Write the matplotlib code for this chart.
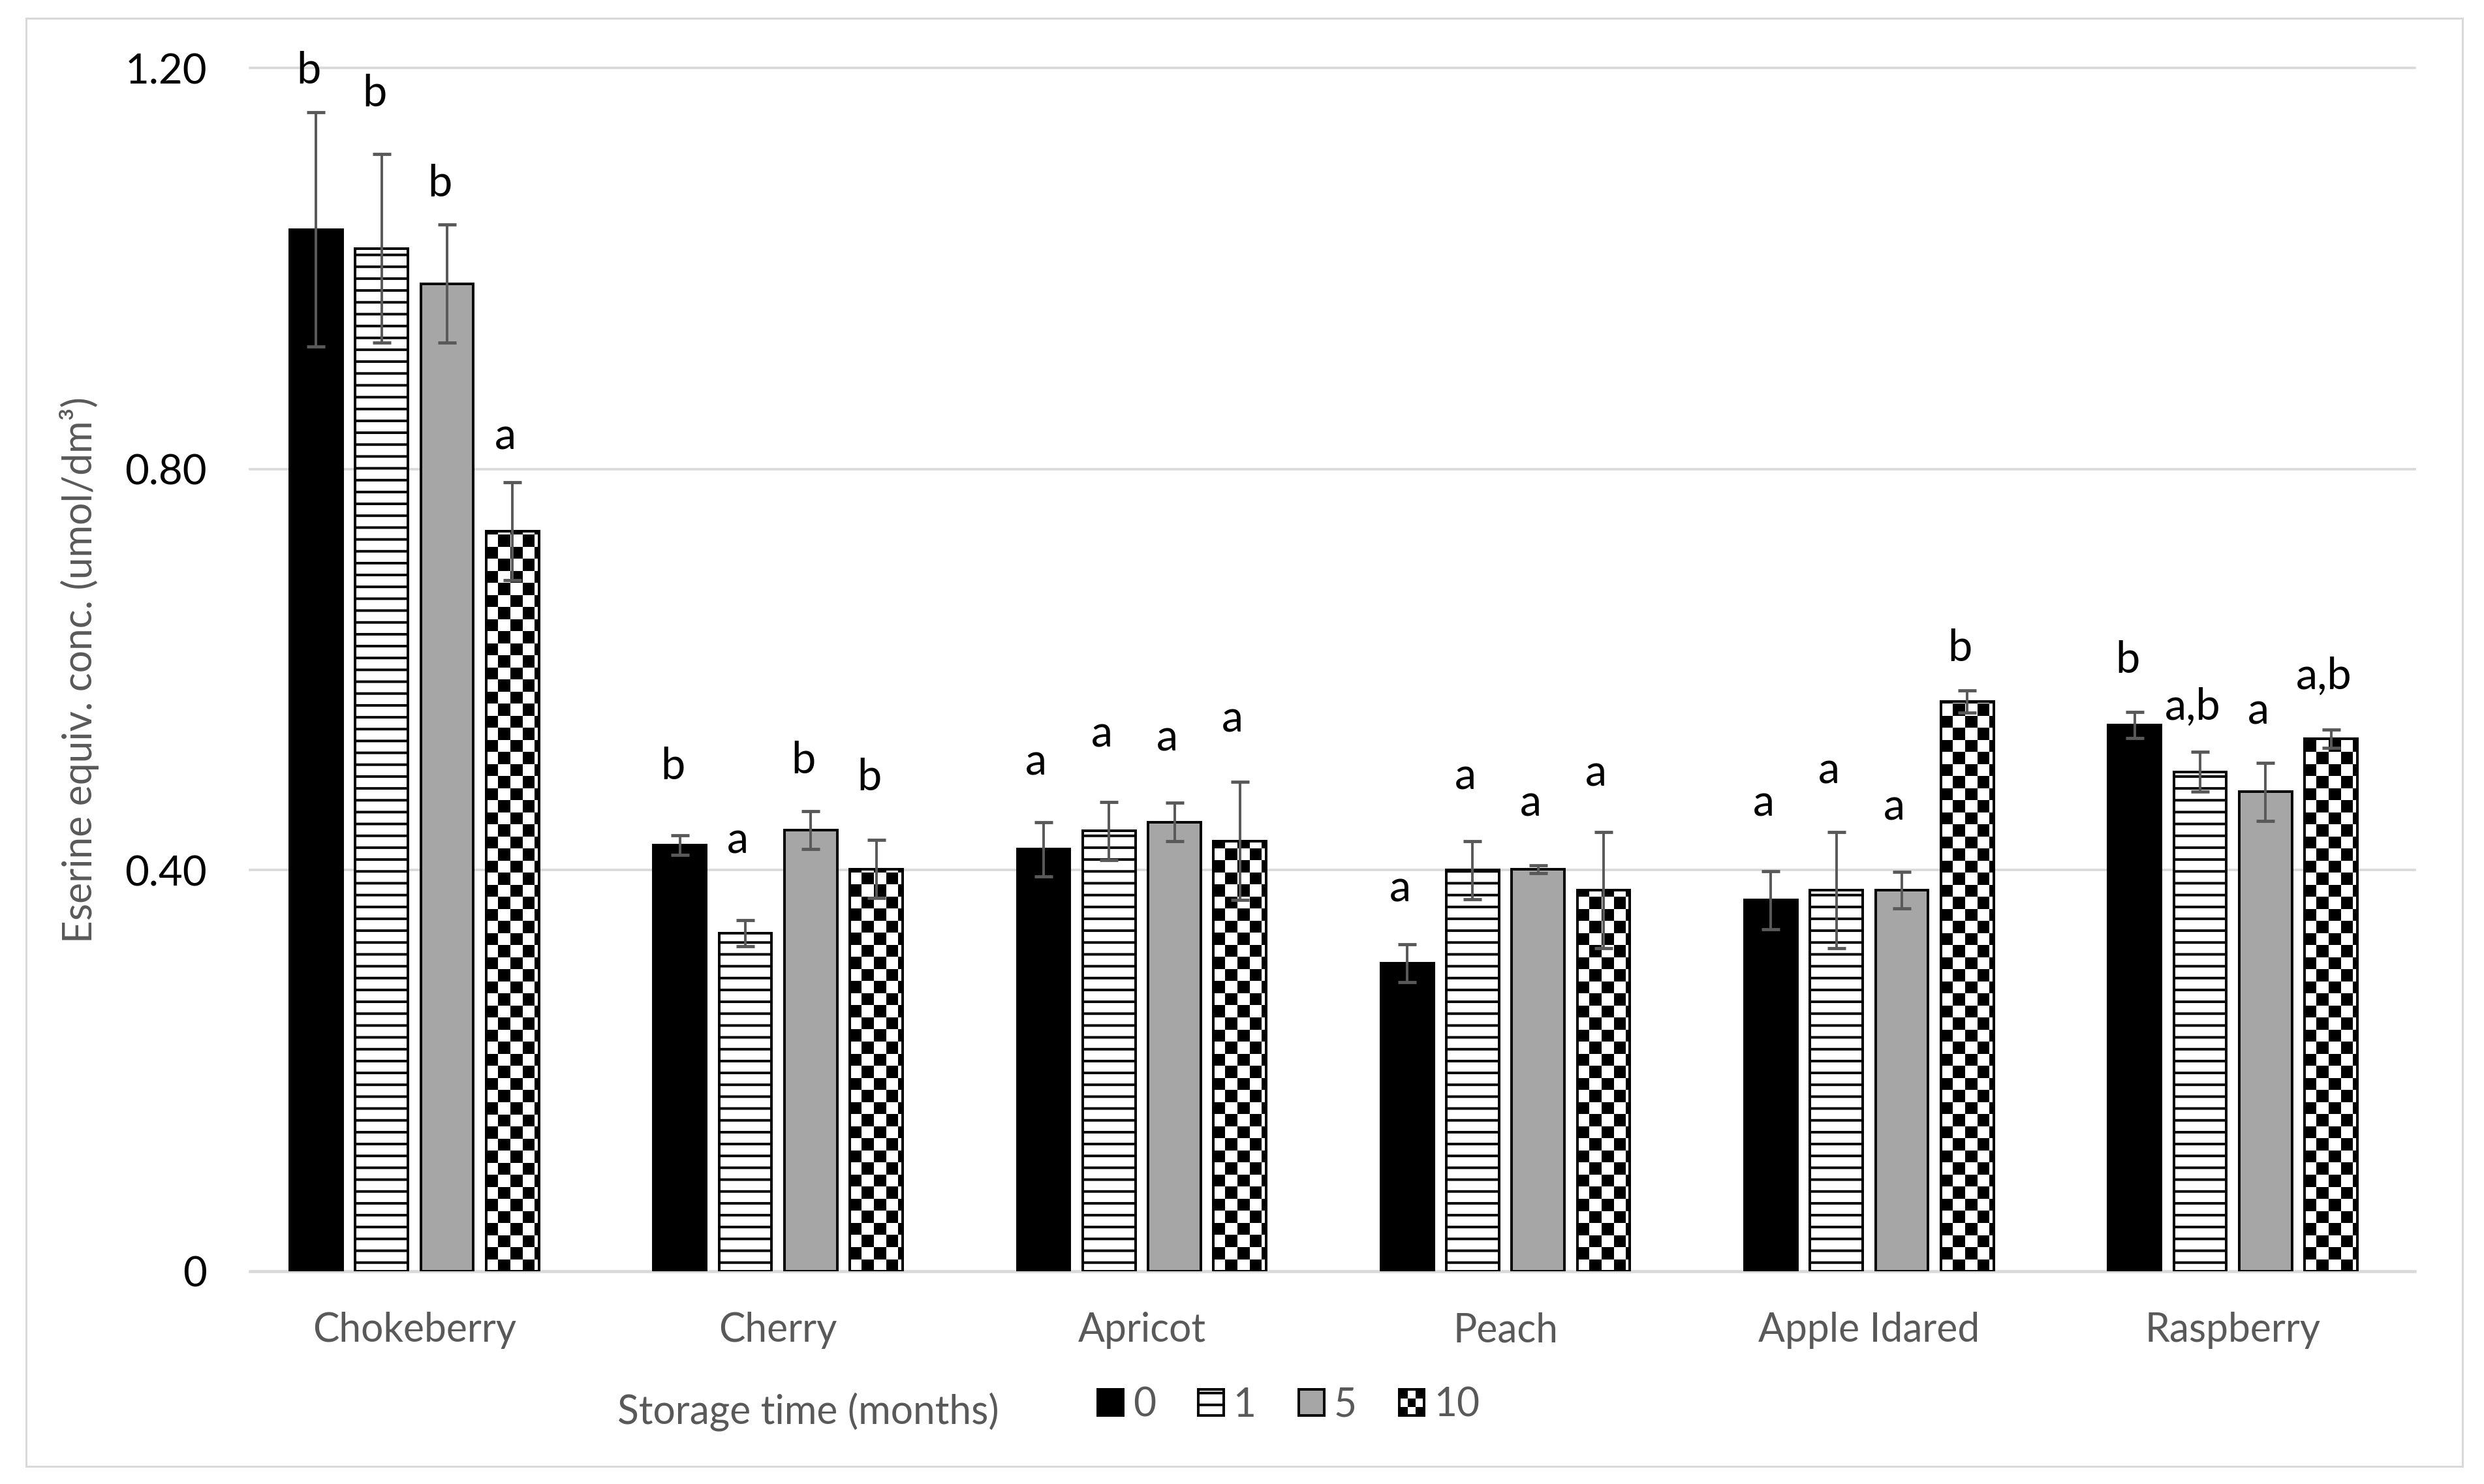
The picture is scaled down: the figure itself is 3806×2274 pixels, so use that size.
import numpy as np
import matplotlib.pyplot as plt
from matplotlib.patches import Patch, Rectangle
from matplotlib.colors import ListedColormap
from matplotlib.legend_handler import HandlerBase

# datos
categories = ['Chokeberry', 'Cherry', 'Apricot', 'Peach', 'Apple Idared', 'Raspberry']
series_labels = ['0', '1', '5', '10']
ytick_values = [0, 0.4, 0.8, 1.2]
ytick_labels = ['0', '0.40', '0.80', '1.20']

m0 = [1.039, 0.425, 0.421, 0.307, 0.370, 0.545]
e0 = [0.117, 0.010, 0.027, 0.019, 0.029, 0.013]
m1 = [1.020, 0.337, 0.439, 0.400, 0.380, 0.498]
e1 = [0.094, 0.013, 0.029, 0.029, 0.058, 0.020]
m5 = [0.985, 0.440, 0.448, 0.401, 0.380, 0.478]
e5 = [0.059, 0.019, 0.019, 0.004, 0.018, 0.029]
m10 = [0.738, 0.401, 0.429, 0.380, 0.568, 0.531]
e10 = [0.049, 0.029, 0.059, 0.058, 0.011, 0.009]

# letras de significancia y altura (linea base) donde estan escritas
L0 = ['b', 'b', 'a', 'a', 'a', 'b']
h0 = [1.185, 0.491, 0.495, 0.369, 0.454, 0.597]
L1 = ['b', 'a', 'a', 'a', 'a', 'a,b']
h1 = [1.162, 0.417, 0.523, 0.481, 0.487, 0.550]
L5 = ['b', 'b', 'a', 'a', 'a', 'a']
h5 = [1.072, 0.497, 0.519, 0.454, 0.450, 0.546]
L10 = ['a', 'b', 'a', 'a', 'b', 'a,b']
h10 = [0.820, 0.480, 0.538, 0.484, 0.609, 0.581]

GRAY_TXT = '#595959'
GRID = '#d9d9d9'

plt.rcParams['font.family'] = ['Lato', 'DejaVu Sans']
plt.rcParams['hatch.linewidth'] = 1.3


class CheckerHandler(HandlerBase):
    def create_artists(self, legend, orig_handle, xdescent, ydescent,
                       width, height, fontsize, trans):
        n = 3
        cw, ch = width / n, height / n
        arts = []
        for i in range(n):
            for j in range(n):
                c = 'black' if (i + j) % 2 == 0 else 'white'
                arts.append(Rectangle((-xdescent + i * cw, -ydescent + j * ch), cw, ch,
                                      facecolor=c, edgecolor='none', transform=trans))
        arts.append(Rectangle((-xdescent, -ydescent), width, height, facecolor='none',
                              edgecolor='black', lw=1.3, transform=trans))
        return arts


DPI = 218
fig = plt.figure(figsize=(3806.4 / DPI, 2274.4 / DPI), dpi=DPI)
ax = fig.add_axes([0.0936, 0.1434, 0.97197 - 0.0936, 0.9540 - 0.1434])

x = np.arange(len(categories))
pitch = 0.18
width = 0.145
offsets = (np.arange(4) - 1.5) * pitch

series = [(m0, e0, L0, h0), (m1, e1, L1, h1), (m5, e5, L5, h5), (m10, e10, L10, h10)]
styles = [dict(facecolor='black'),
          dict(facecolor='white', hatch='--'),
          dict(facecolor='#a6a6a6'),
          dict(facecolor='white')]

ax.set_xlim(-0.5, len(categories) - 0.5)
ax.set_ylim(0, 1.2)

bars_by_series = []
for k, (m, e, letters, hts) in enumerate(series):
    xs = x + offsets[k]
    bars = ax.bar(xs, m, width, edgecolor='black', linewidth=1.3, zorder=2, **styles[k])
    bars_by_series.append(bars)
    ax.errorbar(xs, m, yerr=e, fmt='none', ecolor=GRAY_TXT, elinewidth=1.3,
                capsize=4.5, capthick=1.6, zorder=3)
    for xi, yi, t in zip(xs, hts, letters):
        ax.text(xi - 0.02, yi, t, ha='center', va='baseline', fontsize=22, color='black')

# patron de tablero para 10 meses
bb = ax.get_window_extent()
pxx = bb.width / (len(categories))
pxy = bb.height / 1.2
cell = 18.5
cmap = ListedColormap(['white', 'black'])
for bar in bars_by_series[3]:
    x0, w, h = bar.get_x(), bar.get_width(), bar.get_height()
    nx = int(np.ceil(w * pxx / cell)) + 1
    ny = int(np.ceil(h * pxy / cell)) + 1
    arr = np.indices((ny, nx)).sum(axis=0) % 2
    im = ax.imshow(arr, cmap=cmap, vmin=0, vmax=1, origin='lower',
                   extent=(x0, x0 + nx * cell / pxx, 0, ny * cell / pxy),
                   interpolation='nearest', aspect='auto', zorder=2.1)
    im.set_clip_path(bar)
ax.bar(x + offsets[3], m10, width, facecolor='none', edgecolor='black',
       linewidth=1.3, zorder=2.2)

ax.set_xlim(-0.5, len(categories) - 0.5)
ax.set_ylim(0, 1.2)

# rejilla
for v in ytick_values:
    ax.axhline(v, xmin=0.008, xmax=1, color=GRID, lw=1.5 if v == 0 else 1.2,
               zorder=1, clip_on=False)

for s in ax.spines.values():
    s.set_visible(False)

ax.set_yticks(ytick_values)
ax.set_yticklabels(ytick_labels)
ax.set_xticks(x)
ax.set_xticklabels(categories)
ax.tick_params(axis='y', length=0, pad=13, labelsize=21, labelcolor='black')
ax.tick_params(axis='x', length=0, pad=20.5, labelsize=20, labelcolor=GRAY_TXT)

ax.set_ylabel('Eserine equiv. conc. (umol/dm³)', fontsize=20, color=GRAY_TXT)
ax.yaxis.set_label_coords(-0.061, 0.5)

fig.text(0.3253, 0.0488, 'Storage time (months)', ha='center', va='center',
         fontsize=20, color=GRAY_TXT)

checker_handle = Patch(facecolor='white', edgecolor='black')
handles = [Patch(facecolor='black', edgecolor='black', lw=1.3),
           Patch(facecolor='white', edgecolor='black', hatch='--', lw=1.3),
           Patch(facecolor='#a6a6a6', edgecolor='black', lw=1.3),
           checker_handle]
fig.legend(handles, series_labels, handler_map={checker_handle: CheckerHandler()},
           loc='center left', bbox_to_anchor=(0.442, 0.0532), ncol=4, frameon=False,
           fontsize=20, labelcolor=GRAY_TXT, handlelength=0.64, handleheight=0.64,
           handletextpad=0.24, columnspacing=1.08, borderpad=0, borderaxespad=0)

# marco exterior
fig.patches.append(Rectangle((0.0105, 0.012), 0.9913 - 0.0105, 0.9874 - 0.012,
                             transform=fig.transFigure, facecolor='none',
                             edgecolor=GRID, lw=1.0))

fig.savefig('out.png', dpi=DPI)
